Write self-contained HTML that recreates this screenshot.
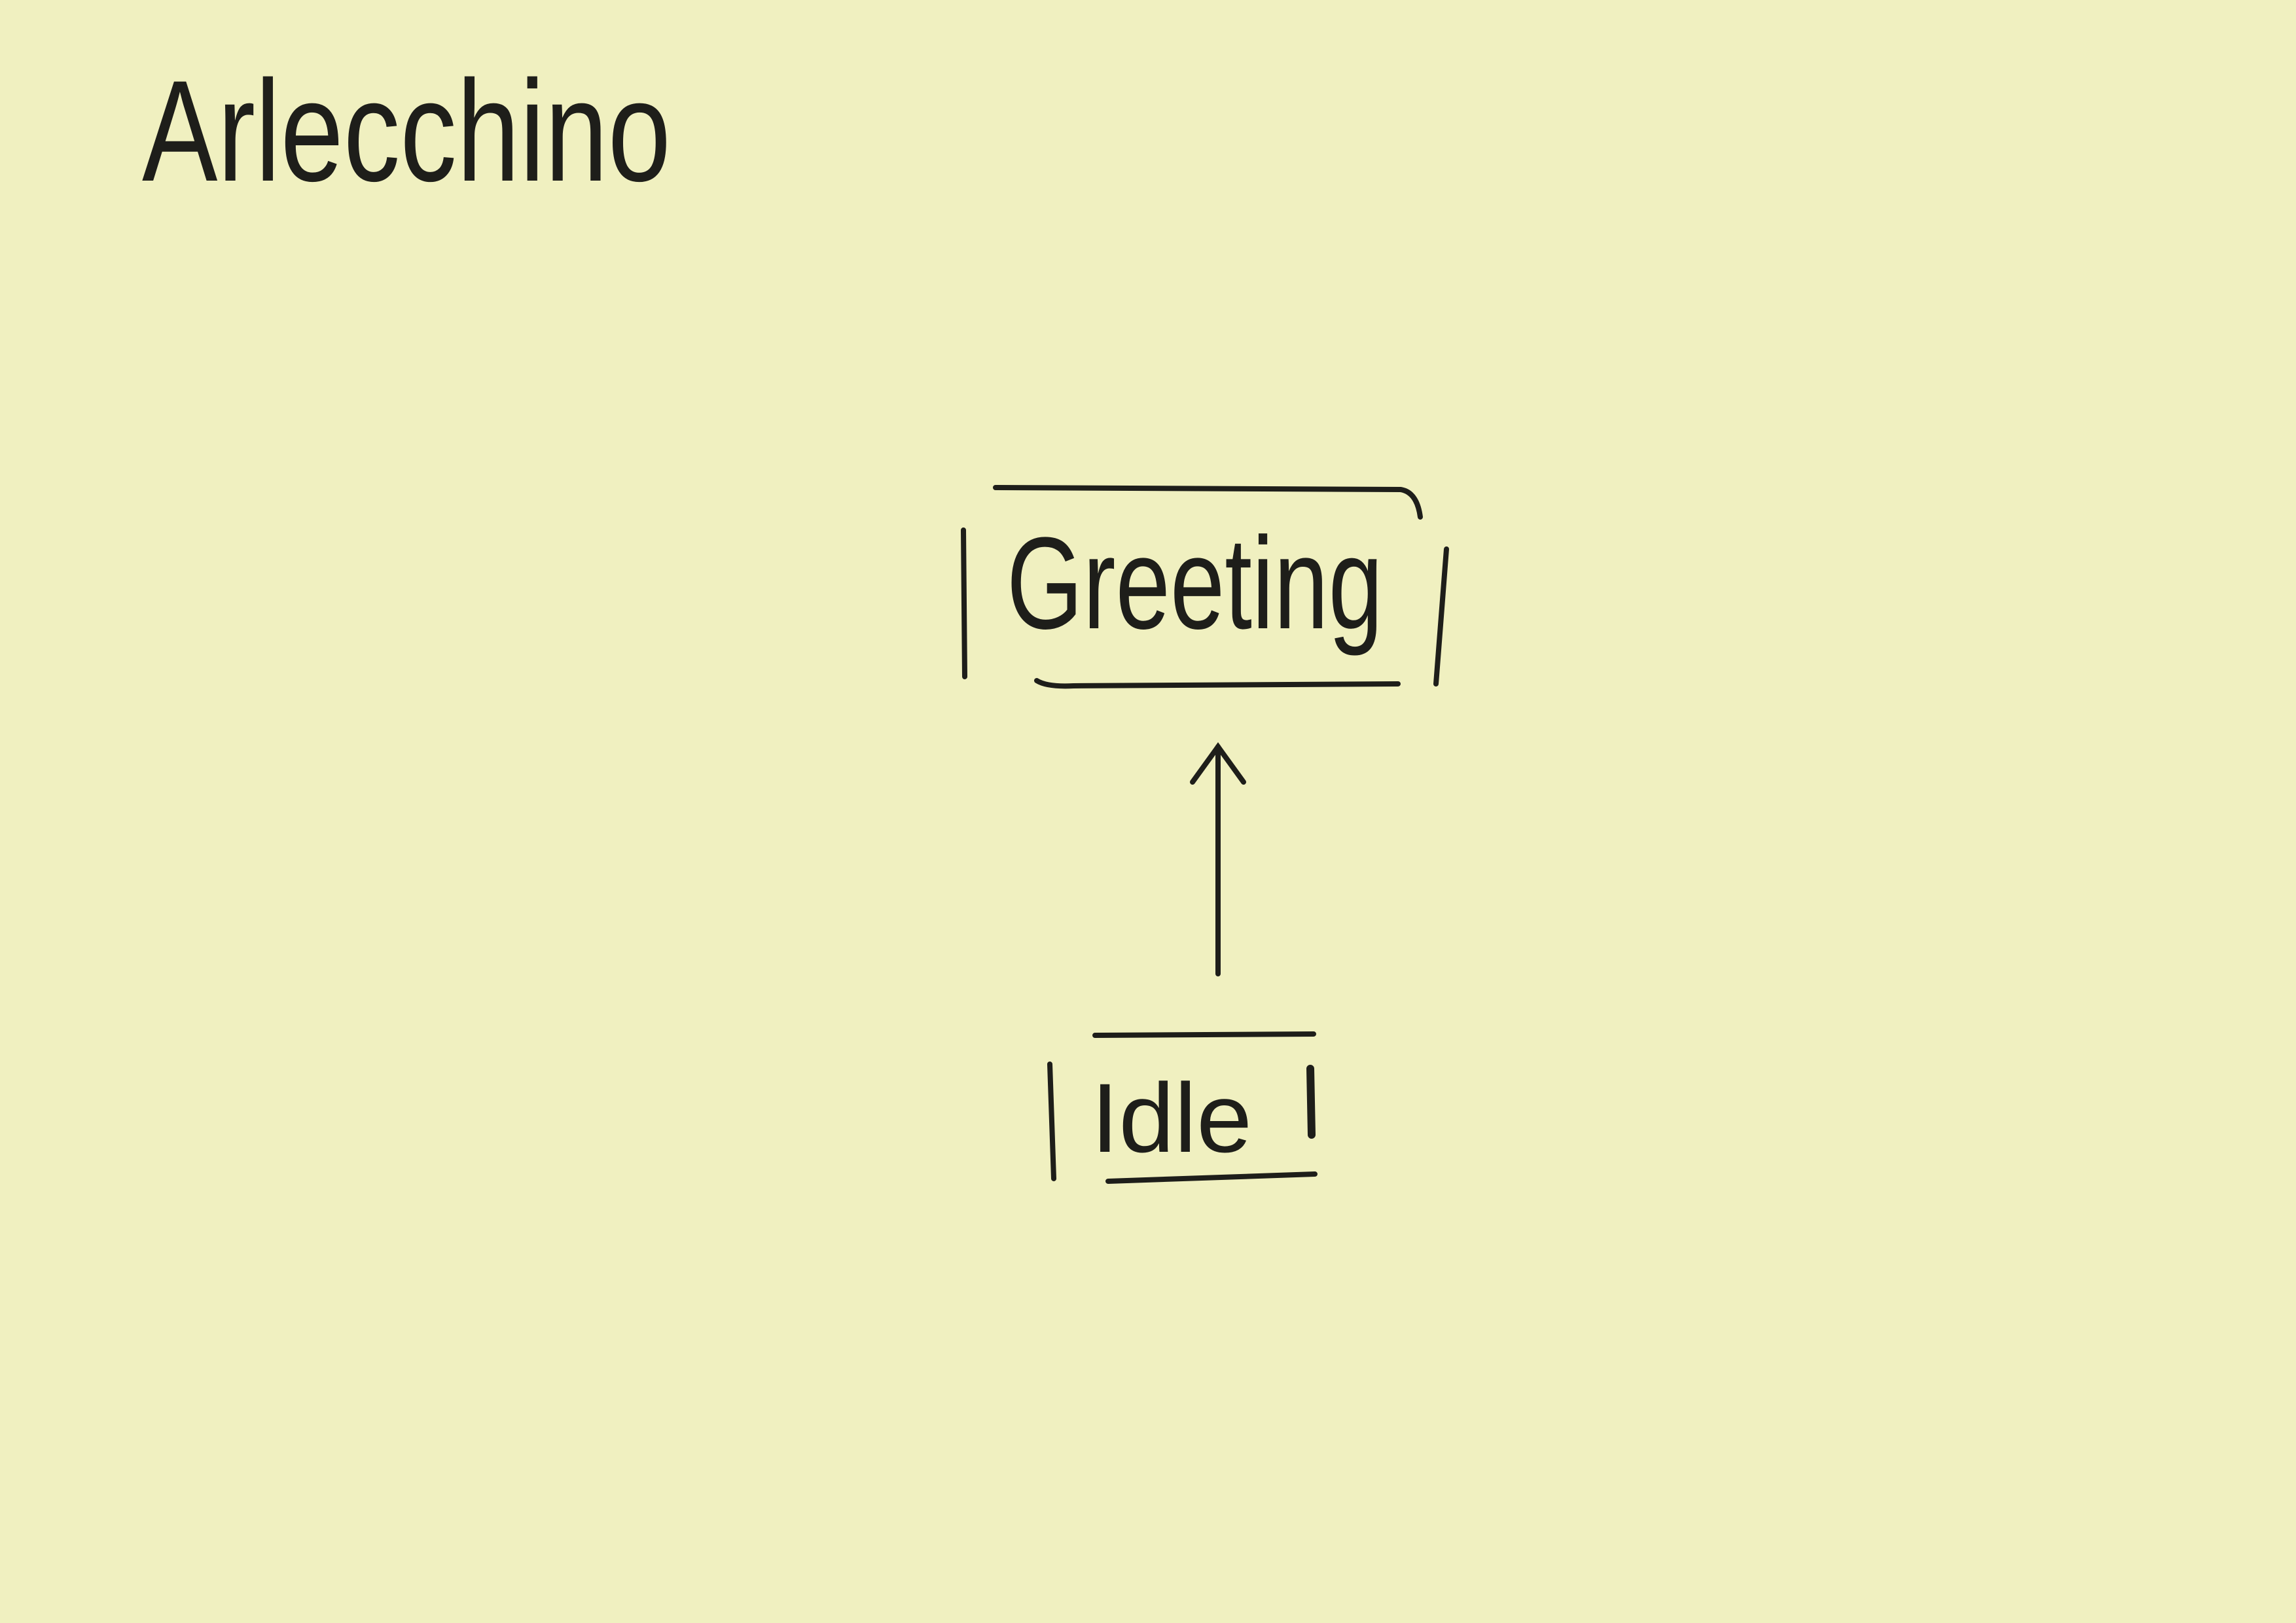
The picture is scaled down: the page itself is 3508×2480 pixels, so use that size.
<!DOCTYPE html>
<html><head><meta charset="utf-8"><style>
html,body{margin:0;padding:0;background:#f0f0c0;}
svg{display:block;}
</style></head><body>
<svg width="3508" height="2480" viewBox="0 0 3508 2480" xmlns="http://www.w3.org/2000/svg">
<rect width="3508" height="2480" fill="#f0f0c0"/>
<g font-family="Liberation Sans, sans-serif" fill="#1e1e1a">
<text x="217" y="276" font-size="220" textLength="808" lengthAdjust="spacingAndGlyphs">Arlecchino</text>
<text x="1538" y="960" font-size="200" textLength="575" lengthAdjust="spacingAndGlyphs">Greeting</text>
<text x="1667" y="1760" font-size="150" textLength="246" lengthAdjust="spacingAndGlyphs">Idle</text>
</g>
<g stroke="#1e1e1a" stroke-width="8" fill="none" stroke-linecap="round">
<path d="M1521 745 L2140 748 Q2165 752 2170 790"/>
<path d="M1472 810 L1474 1034"/>
<path d="M2210 839 L2194 1045"/>
<path d="M1584 1040 Q1600 1050 1640 1048 L2136 1045"/>
<path d="M1861 1488 L1861 1141"/>
<path d="M1822 1195 L1861 1141 L1900 1195"/>
<path d="M1673 1582 L2007 1580"/>
<path d="M1604 1626 L1610 1801"/>
<path d="M2002 1633 L2004 1734" stroke-width="12"/>
<path d="M1693 1805 L2009 1794"/>
</g>
</svg>
</body></html>
